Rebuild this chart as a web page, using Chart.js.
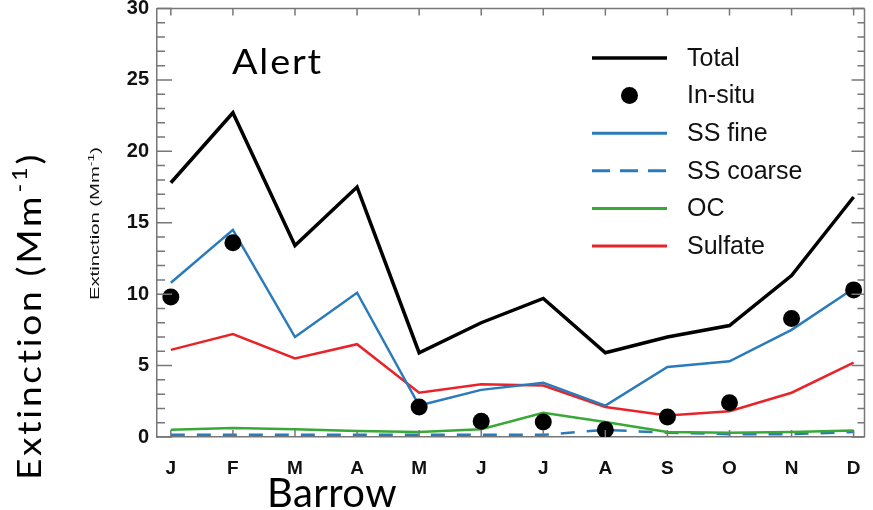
<!DOCTYPE html>
<html>
<head>
<meta charset="utf-8">
<script src="https://cdn.jsdelivr.net/npm/chart.js@4.4.1/dist/chart.umd.min.js"></script>
<style>
  html, body { margin: 0; padding: 0; background: #fff; overflow: hidden; }
  canvas { display: block; }
</style>
</head>
<body>
<canvas id="chart" width="873" height="510"></canvas>
<script>
// Monthly aerosol extinction (Mm^-1)
const months   = ['J', 'F', 'M', 'A', 'M', 'J', 'J', 'A', 'S', 'O', 'N', 'D'];
const total    = [17.8, 22.7, 13.4, 17.5, 5.9, 8.0, 9.7, 5.9, 7.0, 7.8, 11.3, 16.8];
const inSitu   = [9.8, 13.6, null, null, 2.1, 1.1, 1.05, 0.5, 1.4, 2.4, 8.3, 10.3];
const ssFine   = [10.8, 14.5, 7.0, 10.1, 2.2, 3.3, 3.8, 2.2, 4.9, 5.3, 7.5, 10.4];
const ssCoarse = [0.15, 0.15, 0.15, 0.15, 0.15, 0.15, 0.15, 0.5, 0.3, 0.2, 0.2, 0.35];
const oc       = [0.5, 0.63, 0.55, 0.42, 0.35, 0.55, 1.7, 1.05, 0.35, 0.3, 0.35, 0.45];
const sulfate  = [6.1, 7.2, 5.5, 6.5, 3.1, 3.7, 3.6, 2.1, 1.5, 1.8, 3.1, 5.2];
const yMin = 0, yMax = 30, yStep = 5;

const BLACK = '#000000', BLUE = '#2b7bba', GREEN = '#38a836', RED = '#e8242a', AXIS = '#777777';
const SANS = '"Liberation Sans", Arial, sans-serif';

const pts = arr => arr.map((v, i) => ({ x: i, y: v }));

const lineDs = (label, arr, color, width, extra) => Object.assign({
  label, data: pts(arr), borderColor: color, backgroundColor: color,
  borderWidth: width, pointRadius: 0, pointHoverRadius: 0, tension: 0, fill: false
}, extra || {});

const datasets = [
  Object.assign(lineDs('In-situ', inSitu, BLACK, 0), {
    showLine: false, pointRadius: 8.5, pointBackgroundColor: BLACK, pointBorderWidth: 0, order: 0
  }),
  lineDs('Total', total, BLACK, 3.5, { order: 1 }),
  lineDs('SS fine', ssFine, BLUE, 2.5, { order: 2 }),
  lineDs('SS coarse', ssCoarse, BLUE, 2.5, { borderDash: [14, 12], order: 5 }),
  lineDs('OC', oc, GREEN, 2.5, { order: 4 }),
  lineDs('Sulfate', sulfate, RED, 2.5, { order: 3 })
];

// Legend entries, top to bottom
const legendRows = [
  { label: 'Total', kind: 'line', color: BLACK, width: 3.5 },
  { label: 'In-situ', kind: 'dot', color: BLACK },
  { label: 'SS fine', kind: 'line', color: BLUE, width: 3 },
  { label: 'SS coarse', kind: 'dash', color: BLUE, width: 3 },
  { label: 'OC', kind: 'line', color: GREEN, width: 3 },
  { label: 'Sulfate', kind: 'line', color: RED, width: 3 }
];

// Draws text pieces along a line, spreading letters so the run fills `target` px
function drawWide(ctx, parts, x, y, target, sx, rotate) {
  let w0 = 0, n = 0;
  ctx.letterSpacing = '0px';
  parts.forEach(p => { ctx.font = p.font; p.w = ctx.measureText(p.t).width; w0 += p.w; n += p.t.length; });
  const sp = Math.max(0, (target / sx - w0) / n);
  ctx.save();
  ctx.translate(x, y);
  if (rotate) ctx.rotate(-Math.PI / 2);
  ctx.scale(sx, 1);
  ctx.textAlign = 'left';
  ctx.textBaseline = 'alphabetic';
  ctx.letterSpacing = sp + 'px';
  let cx = 0;
  parts.forEach(p => { ctx.font = p.font; ctx.fillText(p.t, cx, p.dy || 0); cx += p.w + sp * p.t.length; });
  ctx.restore();
  ctx.letterSpacing = '0px';
}

const framePlugin = {
  id: 'frame',
  afterDraw(chart) {
    const { ctx, chartArea: a, scales: { x, y } } = chart;
    ctx.save();

    // top and right borders
    ctx.strokeStyle = AXIS;
    ctx.lineWidth = 1.5;
    ctx.beginPath();
    ctx.moveTo(a.left, a.top); ctx.lineTo(a.right, a.top);
    ctx.moveTo(a.right, a.top); ctx.lineTo(a.right, a.bottom);
    ctx.stroke();

    // inward tick marks
    ctx.beginPath();
    for (let v = yMin; v <= yMax; v++) {
      const py = y.getPixelForValue(v);
      const len = v % yStep === 0 ? 15 : 8;
      ctx.moveTo(a.left, py); ctx.lineTo(a.left + len, py);
      ctx.moveTo(a.right, py); ctx.lineTo(a.right - (v % yStep === 0 ? 13 : 7), py);
    }
    months.forEach((m, i) => {
      const px = x.getPixelForValue(i);
      ctx.moveTo(px, a.bottom); ctx.lineTo(px, a.bottom - 7);
      ctx.moveTo(px, a.top); ctx.lineTo(px, a.top + 7);
    });
    ctx.stroke();

    // legend
    const lx0 = 592, lx1 = 667, tx = 687, y0 = 58, dy = 37.6;
    legendRows.forEach((r, i) => {
      const ly = y0 + i * dy;
      ctx.strokeStyle = r.color;
      ctx.fillStyle = r.color;
      if (r.kind === 'dot') {
        ctx.beginPath();
        ctx.arc((lx0 + lx1) / 2, ly, 8.5, 0, Math.PI * 2);
        ctx.fill();
      } else {
        ctx.lineWidth = r.width;
        ctx.setLineDash(r.kind === 'dash' ? [18, 10] : []);
        ctx.beginPath();
        ctx.moveTo(lx0, ly); ctx.lineTo(lx1, ly);
        ctx.stroke();
        ctx.setLineDash([]);
      }
      ctx.fillStyle = '#111';
      ctx.font = '25px ' + SANS;
      ctx.textAlign = 'left';
      ctx.textBaseline = 'middle';
      ctx.fillText(r.label, tx, ly + 1);
    });

    ctx.fillStyle = '#000';
    // station names
    drawWide(ctx, [{ t: 'Alert', font: '35px Lato' }], 232, 74, 91, 1.08, false);
    drawWide(ctx, [{ t: 'Barrow', font: '40px Lato' }], 267, 507, 130, 1.0, false);

    // large axis title
    drawWide(ctx, [
      { t: 'Extinction (Mm', font: '33px Lato' },
      { t: '-1', font: '21px Lato', dy: -14 },
      { t: ')', font: '33px Lato' }
    ], 41, 480, 328, 1.12, true);

    // small axis title
    ctx.fillStyle = '#111';
    const f = '13px ' + SANS;
    const parts = [
      { t: 'Extinction (Mm', font: f },
      { t: '-1', font: '9px ' + SANS, dy: -5 },
      { t: ')', font: f }
    ];
    let w = 0;
    parts.forEach(p => { ctx.font = p.font; w += ctx.measureText(p.t).width; });
    drawWide(ctx, parts, 99, 300, 153, 153 / w, true);

    ctx.restore();
  }
};

new Chart(document.getElementById('chart'), {
  type: 'line',
  data: { datasets },
  options: {
    responsive: false,
    animation: false,
    devicePixelRatio: 1,
    layout: { padding: { top: 8, right: 0, bottom: 0, left: 0 } },
    plugins: { legend: { display: false }, tooltip: { enabled: false } },
    scales: {
      x: {
        type: 'linear',
        min: -0.223,
        max: 11.175,
        afterBuildTicks: s => { s.ticks = months.map((m, i) => ({ value: i })); },
        ticks: {
          autoSkip: false,
          maxRotation: 0,
          padding: 20,
          color: '#111',
          font: { family: SANS, size: 19, weight: 'bold' },
          callback: v => months[v]
        },
        grid: { display: false, drawTicks: false },
        border: { display: true, color: AXIS, width: 1.5 },
        afterFit: s => { s.height = 73; s.paddingLeft = 0; s.paddingRight = 0; }
      },
      y: {
        min: yMin,
        max: yMax,
        ticks: {
          stepSize: yStep,
          padding: 8,
          color: '#111',
          font: { family: SANS, size: 20, weight: 'bold' }
        },
        grid: { display: false, drawTicks: false },
        border: { display: true, color: AXIS, width: 1.5 },
        afterFit: s => { s.width = 157; s.paddingTop = 0; s.paddingBottom = 0; }
      }
    }
  },
  plugins: [framePlugin]
});
</script>
</body>
</html>
